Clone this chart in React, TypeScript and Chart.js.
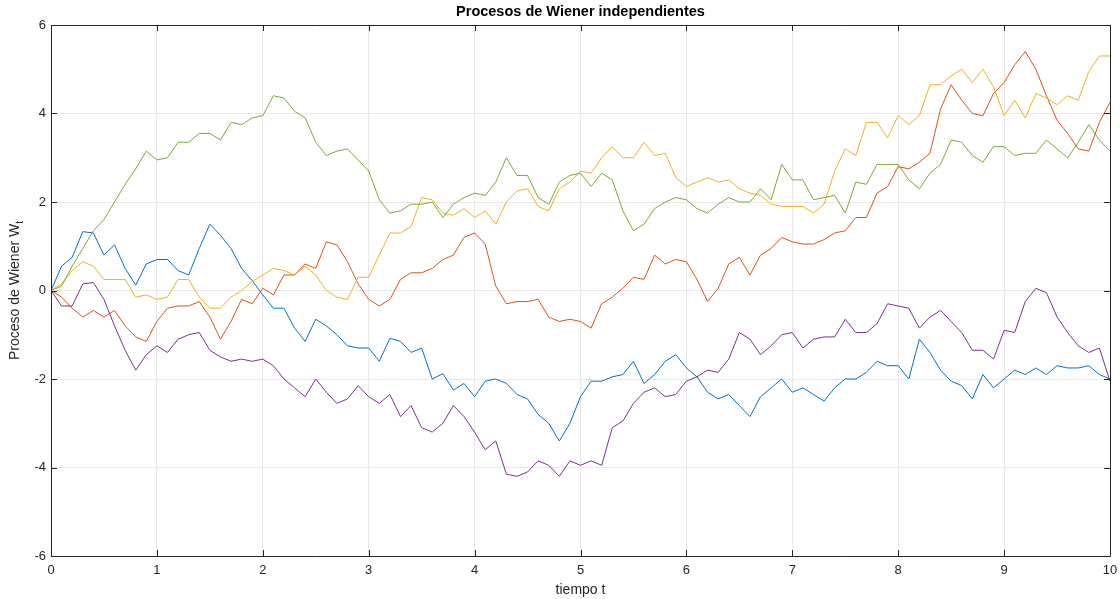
import React, { useEffect, useRef } from "react";
import { Chart, registerables } from "chart.js";

Chart.register(...registerables);

const times = [
  0, 0.1, 0.2, 0.3, 0.4, 0.5, 0.6, 0.7, 0.8, 0.9,
  1, 1.1, 1.2, 1.3, 1.4, 1.5, 1.6, 1.7, 1.8, 1.9,
  2, 2.1, 2.2, 2.3, 2.4, 2.5, 2.6, 2.7, 2.8, 2.9,
  3, 3.1, 3.2, 3.3, 3.4, 3.5, 3.6, 3.7, 3.8, 3.9,
  4, 4.1, 4.2, 4.3, 4.4, 4.5, 4.6, 4.7, 4.8, 4.9,
  5, 5.1, 5.2, 5.3, 5.4, 5.5, 5.6, 5.7, 5.8, 5.9,
  6, 6.1, 6.2, 6.3, 6.4, 6.5, 6.6, 6.7, 6.8, 6.9,
  7, 7.1, 7.2, 7.3, 7.4, 7.5, 7.6, 7.7, 7.8, 7.9,
  8, 8.1, 8.2, 8.3, 8.4, 8.5, 8.6, 8.7, 8.8, 8.9,
  9, 9.1, 9.2, 9.3, 9.4, 9.5, 9.6, 9.7, 9.8, 9.9,
  10,
];

const wiener1 = [
  0, 0.55, 0.75, 1.33, 1.3, 0.8, 1.03, 0.5, 0.12, 0.6,
  0.7, 0.7, 0.45, 0.35, 0.95, 1.5, 1.25, 0.95, 0.5, 0.22,
  -0.1, -0.4, -0.4, -0.85, -1.15, -0.65, -0.8, -1.0, -1.25, -1.3,
  -1.3, -1.6, -1.08, -1.15, -1.4, -1.3, -2.0, -1.88, -2.25, -2.1,
  -2.4, -2.05, -2.0, -2.1, -2.35, -2.45, -2.8, -3.0, -3.4, -3.0,
  -2.4, -2.05, -2.05, -1.95, -1.9, -1.6, -2.1, -1.9, -1.6, -1.45,
  -1.75, -1.95, -2.3, -2.45, -2.35, -2.6, -2.85, -2.4, -2.2, -2.0,
  -2.3, -2.2, -2.35, -2.5, -2.2, -2.0, -2.0, -1.85, -1.6, -1.7,
  -1.7, -2.0, -1.1, -1.4, -1.8, -2.05, -2.15, -2.45, -1.9, -2.2,
  -2.0, -1.8, -1.9, -1.75, -1.9, -1.7, -1.75, -1.75, -1.7, -1.9,
  -2.0,
];

const wiener2 = [
  0, -0.15, -0.4, -0.6, -0.45, -0.6, -0.45, -0.8, -1.05, -1.15,
  -0.7, -0.4, -0.35, -0.35, -0.25, -0.6, -1.1, -0.7, -0.2, -0.3,
  0.05, -0.1, 0.35, 0.35, 0.6, 0.5, 1.1, 1.03, 0.65, 0.15,
  -0.2, -0.35, -0.2, 0.25, 0.4, 0.4, 0.5, 0.7, 0.8, 1.2,
  1.3, 1.05, 0.1, -0.3, -0.25, -0.25, -0.2, -0.6, -0.7, -0.65,
  -0.7, -0.85, -0.3, -0.15, 0.05, 0.3, 0.25, 0.8, 0.6, 0.7,
  0.65, 0.25, -0.25, 0.05, 0.6, 0.75, 0.35, 0.8, 0.95, 1.2,
  1.1, 1.05, 1.05, 1.15, 1.3, 1.35, 1.65, 1.65, 2.2, 2.35,
  2.8, 2.75, 2.9, 3.1, 4.1, 4.65, 4.3, 4.0, 3.95, 4.45,
  4.7, 5.1, 5.4, 5.0, 4.4, 3.85, 3.55, 3.2, 3.15, 3.8,
  4.25,
];

const wiener3 = [
  0, 0.15, 0.45, 0.65, 0.55, 0.25, 0.25, 0.25, -0.15, -0.1,
  -0.2, -0.15, 0.25, 0.25, -0.15, -0.4, -0.4, -0.15, 0.0, 0.2,
  0.35, 0.5, 0.45, 0.35, 0.55, 0.35, 0.0, -0.15, -0.2, 0.3,
  0.3, 0.8, 1.3, 1.3, 1.45, 2.1, 2.05, 1.75, 1.7, 1.85,
  1.65, 1.8, 1.5, 2.0, 2.25, 2.3, 1.9, 1.8, 2.3, 2.45,
  2.7, 2.65, 3.0, 3.25, 3.0, 3.0, 3.35, 3.05, 3.1, 2.55,
  2.35, 2.45, 2.55, 2.45, 2.5, 2.3, 2.2, 2.15, 1.95, 1.9,
  1.9, 1.9, 1.75, 1.95, 2.7, 3.2, 3.05, 3.8, 3.8, 3.45,
  3.95, 3.75, 3.95, 4.65, 4.65, 4.85, 5.0, 4.7, 5.0, 4.6,
  3.95, 4.3, 3.9, 4.45, 4.35, 4.2, 4.4, 4.3, 4.95, 5.3,
  5.3,
];

const wiener4 = [
  0, -0.35, -0.35, 0.15, 0.18, -0.2, -0.8, -1.35, -1.8, -1.45,
  -1.25, -1.4, -1.1, -1.0, -0.95, -1.35, -1.5, -1.6, -1.55, -1.6,
  -1.55, -1.7, -2.0, -2.2, -2.4, -2.0, -2.3, -2.55, -2.45, -2.15,
  -2.4, -2.55, -2.35, -2.85, -2.6, -3.1, -3.2, -3.0, -2.6, -2.85,
  -3.2, -3.6, -3.4, -4.15, -4.2, -4.1, -3.85, -3.95, -4.2, -3.85,
  -3.95, -3.85, -3.95, -3.1, -2.95, -2.55, -2.3, -2.2, -2.4, -2.35,
  -2.05, -1.95, -1.8, -1.85, -1.55, -0.95, -1.1, -1.45, -1.25, -1.0,
  -0.95, -1.3, -1.1, -1.05, -1.05, -0.65, -0.95, -0.95, -0.75, -0.3,
  -0.35, -0.4, -0.85, -0.6, -0.45, -0.7, -0.95, -1.35, -1.35, -1.55,
  -0.9, -0.95, -0.25, 0.05, -0.05, -0.6, -0.95, -1.25, -1.4, -1.3,
  -2.05,
];

const wiener5 = [
  0, 0.1, 0.55, 0.95, 1.35, 1.6, 2.0, 2.4, 2.75, 3.15,
  2.95, 3.0, 3.35, 3.35, 3.55, 3.55, 3.4, 3.8, 3.75, 3.9,
  3.95, 4.4, 4.35, 4.05, 3.9, 3.35, 3.05, 3.15, 3.2, 2.95,
  2.7, 2.05, 1.75, 1.8, 1.95, 1.95, 2.0, 1.65, 1.95, 2.1,
  2.2, 2.15, 2.45, 3.0, 2.6, 2.6, 2.1, 1.95, 2.45, 2.6,
  2.65, 2.35, 2.65, 2.5, 1.8, 1.35, 1.5, 1.85, 2.0, 2.1,
  2.05, 1.85, 1.75, 1.95, 2.1, 2.0, 2.0, 2.3, 2.05, 2.85,
  2.5, 2.5, 2.05, 2.1, 2.15, 1.75, 2.45, 2.4, 2.85, 2.85,
  2.85, 2.5, 2.3, 2.65, 2.85, 3.4, 3.35, 3.05, 2.9, 3.25,
  3.25, 3.05, 3.1, 3.1, 3.4, 3.2, 3.0, 3.35, 3.75, 3.4,
  3.15,
];

const xTicks = [0, 1, 2, 3, 4, 5, 6, 7, 8, 9, 10];
const yTicks = [-6, -4, -2, 0, 2, 4, 6];

const titleText = "Procesos de Wiener independientes";
const xLabel = "tiempo t";
const yLabelMain = "Proceso de Wiener W";
const yLabelSub = "t";

const FONT = "'Liberation Sans', Arial, Helvetica, sans-serif";
const AXIS_COLOR = "#262626";

const matlabAxesPlugin = {
  id: "matlabAxes",
  afterDatasetsDraw(chart: any) {
    const { ctx, chartArea } = chart;
    const { left, right, top, bottom } = chartArea;
    const xs = chart.scales.x;
    const ys = chart.scales.y;
    ctx.save();
    ctx.strokeStyle = AXIS_COLOR;
    ctx.lineWidth = 1;
    ctx.beginPath();
    ctx.rect(Math.round(left) + 0.5, Math.round(top) + 0.5, Math.round(right - left), Math.round(bottom - top));
    ctx.stroke();
    const tl = 6;
    ctx.beginPath();
    xTicks.forEach((v) => {
      const px = Math.round(xs.getPixelForValue(v)) + 0.5;
      ctx.moveTo(px, bottom);
      ctx.lineTo(px, bottom - tl);
      ctx.moveTo(px, top);
      ctx.lineTo(px, top + tl);
    });
    yTicks.forEach((v) => {
      const py = Math.round(ys.getPixelForValue(v)) + 0.5;
      ctx.moveTo(left, py);
      ctx.lineTo(left + tl, py);
      ctx.moveTo(right, py);
      ctx.lineTo(right - tl, py);
    });
    ctx.stroke();
    ctx.restore();
  },
  afterDraw(chart: any) {
    const { ctx, chartArea } = chart;
    const cx = (chartArea.left + chartArea.right) / 2;
    const cy = (chartArea.top + chartArea.bottom) / 2;
    ctx.save();
    ctx.fillStyle = "#000000";
    ctx.font = `bold 14.5px ${FONT}`;
    ctx.textAlign = "center";
    ctx.textBaseline = "middle";
    ctx.fillText(titleText, cx, 12);

    ctx.fillStyle = AXIS_COLOR;
    ctx.font = `14px ${FONT}`;
    ctx.fillText(xLabel, cx, 590);

    ctx.translate(15, cy);
    ctx.rotate(-Math.PI / 2);
    ctx.font = `14px ${FONT}`;
    const wMain = ctx.measureText(yLabelMain).width;
    ctx.font = `10px ${FONT}`;
    const wSub = ctx.measureText(yLabelSub).width;
    const total = wMain + wSub;
    ctx.textAlign = "left";
    ctx.font = `14px ${FONT}`;
    ctx.fillText(yLabelMain, -total / 2, 0);
    ctx.font = `10px ${FONT}`;
    ctx.fillText(yLabelSub, -total / 2 + wMain, 5);
    ctx.restore();
  },
};

export default function App() {
  const canvasRef = useRef<HTMLCanvasElement | null>(null);

  useEffect(() => {
    if (!canvasRef.current) return;
    const mk = (vals: number[]) => vals.map((v, i) => ({ x: times[i], y: v }));
    const series = [
      { label: "W1", data: wiener1, color: "#0072BD", order: 5 },
      { label: "W2", data: wiener2, color: "#D95319", order: 4 },
      { label: "W3", data: wiener3, color: "#EDB120", order: 3 },
      { label: "W4", data: wiener4, color: "#7E2F8E", order: 2 },
      { label: "W5", data: wiener5, color: "#77AC30", order: 1 },
    ];
    const chart = new Chart(canvasRef.current, {
      type: "line",
      data: {
        datasets: series.map((s) => ({
          label: s.label,
          data: mk(s.data),
          borderColor: s.color,
          backgroundColor: s.color,
          borderWidth: 1,
          pointRadius: 0,
          tension: 0,
          fill: false,
          order: s.order,
        })),
      },
      options: {
        animation: false,
        responsive: false,
        maintainAspectRatio: false,
        layout: { padding: { top: 25, right: 10, left: 0, bottom: 0 } },
        plugins: {
          legend: { display: false },
          tooltip: { enabled: false },
          title: { display: false },
        },
        scales: {
          x: {
            type: "linear",
            min: 0,
            max: 10,
            afterBuildTicks: (scale: any) => {
              scale.ticks = xTicks.map((v) => ({ value: v }));
            },
            afterFit: (scale: any) => {
              scale.height = 43;
              scale.paddingLeft = 0;
              scale.paddingRight = 0;
            },
            grid: { color: "#e8e8e8", drawTicks: false, lineWidth: 1 },
            border: { display: false },
            ticks: {
              padding: 7,
              color: AXIS_COLOR,
              font: { family: FONT, size: 13 },
              maxRotation: 0,
              callback: (v: any) => String(v),
            },
          },
          y: {
            type: "linear",
            min: -6,
            max: 6,
            afterBuildTicks: (scale: any) => {
              scale.ticks = yTicks.map((v) => ({ value: v }));
            },
            afterFit: (scale: any) => {
              scale.width = 51;
              scale.paddingTop = 0;
              scale.paddingBottom = 0;
            },
            grid: { color: "#e8e8e8", drawTicks: false, lineWidth: 1 },
            border: { display: false },
            ticks: {
              padding: 5,
              color: AXIS_COLOR,
              font: { family: FONT, size: 13 },
              callback: (v: any) => String(v),
            },
          },
        },
      },
      plugins: [matlabAxesPlugin],
    });
    return () => chart.destroy();
  }, []);

  return (
    <div style={{ position: "fixed", left: 0, top: 0, width: 1120, height: 599, background: "#ffffff" }}>
      <canvas ref={canvasRef} width={1120} height={599} style={{ display: "block" }} />
    </div>
  );
}
